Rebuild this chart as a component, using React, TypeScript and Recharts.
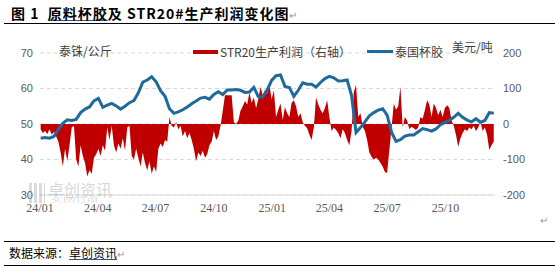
import { ComposedChart, Area, Line, XAxis, YAxis, CartesianGrid } from 'recharts';

// samples every 3.5 days starting 2024-01-02 (day 1 counted from 2024-01-01)
const firstDay = 1;
const stepDays = 3.5;

// 泰国杯胶, 泰铢/公斤 (left axis), one value per week = every second sample
const cupLump = [
  46.0, 46.2, 46.0, 46.5, 48.5, 50.2, 51.2, 51.0, 51.3, 53.2,
  54.2, 54.8, 56.5, 57.2, 54.7, 55.3, 55.8, 55.1, 54.2, 55.0,
  56.0, 56.6, 58.8, 61.8, 62.4, 63.3, 61.9, 59.4, 57.8, 54.3,
  53.0, 53.4, 54.0, 54.8, 55.7, 56.5, 57.3, 57.5, 57.0, 58.3,
  59.1, 58.3, 59.6, 59.6, 59.7, 59.5, 58.9, 59.0, 60.3, 57.7,
  57.6, 59.6, 62.3, 63.6, 63.8, 60.6, 60.3, 57.8, 59.5, 61.6,
  61.2, 61.2, 60.4, 61.7, 62.8, 63.4, 63.0, 62.1, 62.2, 62.4,
  58.0, 47.6, 49.0, 50.6, 52.3, 53.2, 53.9, 54.3, 52.5, 47.7,
  45.1, 45.6, 46.6, 46.9, 46.9, 47.8, 48.7, 48.4, 48.0, 48.6,
  49.8, 50.4, 51.0, 51.9, 53.0, 51.9, 51.1, 50.6, 51.5, 50.5,
  51.0, 53.2, 53.0,
];

// STR20生产利润, 美元/吨 (right axis), one value per sample
const str20Profit = [
  -15, -25, -20, -28, -15, -30, -22, -35, -50, -80,
  -120, -70, -105, -60, -10, -5, -100, -120, -60, -90,
  -110, -148, -130, -140, -95, -85, -70, -90, -60, -75,
  -10, -45, -5, -60, -80, -55, -70, -40, -75, -10,
  -5, -90, -100, -70, -95, -120, -80, -110, -130, -105,
  -140, -120, -135, -70, -55, -65, -45, -50, 20, -5,
  -10, 5, -15, -5, -35, -20, -40, -25, -45, -70,
  -105, -80, -90, -75, -95, -85, -60, -50, -20, -45,
  -35, -5, 37, 81, 81, 81, 81, 5, 0, 10,
  37, 50, 65, 55, 88, 60, 75, 45, 70, 105,
  80, 95, 85, 110, 70, 95, 20, 40, 58, 11,
  48, 30, 20, 60, 67, 50, 20, 30, 5, -5,
  -12, -30, -45, -10, 75, 55, 40, 30, 45, 67,
  20, -20, -10, -17, -25, -40, -15, -25, -45, -60,
  -20, 90, 110, 20, 30, -8, -20, -45, -80, -92,
  -101, -95, -100, -110, -120, -135, -138, -73, -10, 58,
  40, 50, 105, -10, 20, 10, -15, -8, -12, -17,
  -10, 20, 15, 39, 67, 55, 20, 58, 45, 25,
  40, 20, 45, 53, 45, 10, -5, -30, -64, -40,
  -25, -15, -20, -10, -15, -5, -20, -10, 7, -20,
  -10, -30, -73, -60, -50,
];

const tickDays = [0, 91, 182, 274, 366, 456, 547, 639];
const tickLabels = ['24/01', '24/04', '24/07', '24/10', '25/01', '25/04', '25/07', '25/10'];
const leftTicks = [30, 40, 50, 60, 70];
const rightTicks = [-200, -100, 0, 100, 200];

const data = str20Profit.map((p, i) => ({
  day: firstDay + i * stepDays,
  profit: p,
  cup: i % 2 === 0 ? cupLump[i / 2] : null,
}));

const RED = '#C00000';
const BLUE = '#1F6A9A';
const CJK = '"Noto Sans CJK SC", "Noto Sans", sans-serif';

const abs = (style: React.CSSProperties): React.CSSProperties => ({ position: 'absolute', whiteSpace: 'nowrap', ...style });

export default function App() {
  return (
    <div style={{ position: 'absolute', left: 0, top: 0, width: 555, height: 268, background: '#fff', fontFamily: CJK, overflow: 'hidden' }}>
      <ComposedChart width={555} height={268} data={data} margin={{ top: 53, right: 0, bottom: 53, left: 0 }}>
        <CartesianGrid yAxisId="left" vertical={false} stroke="#d9d9d9" strokeDasharray="4 3" />
        <XAxis
          dataKey="day"
          type="number"
          domain={[0, 717]}
          ticks={tickDays}
          interval={0}
          tickFormatter={(d) => tickLabels[tickDays.indexOf(d)]}
          height={20}
          axisLine={{ stroke: '#d9d9d9' }}
          tickLine={false}
          tick={{ fill: '#595959', fontSize: 12, fontFamily: '"Liberation Serif", serif' }}
        />
        <YAxis
          yAxisId="left"
          domain={[30, 70]}
          ticks={leftTicks}
          interval={0}
          width={40}
          axisLine={false}
          tickLine={false}
          tickMargin={1}
          tick={{ fill: '#595959', fontSize: 11, fontFamily: '"Liberation Sans", sans-serif' }}
        />
        <YAxis
          yAxisId="right"
          orientation="right"
          domain={[-200, 200]}
          ticks={rightTicks}
          interval={0}
          width={60}
          axisLine={false}
          tickLine={false}
          tick={{ fill: '#595959', fontSize: 11, fontFamily: '"Liberation Sans", sans-serif' }}
        />
        <Area
          yAxisId="right"
          type="linear"
          dataKey="profit"
          baseValue={0}
          fill={RED}
          fillOpacity={1}
          stroke="none"
          dot={false}
          activeDot={false}
          isAnimationActive={false}
        />
        <Line
          yAxisId="left"
          type="linear"
          dataKey="cup"
          connectNulls
          stroke={BLUE}
          strokeWidth={3}
          dot={false}
          activeDot={false}
          isAnimationActive={false}
        />
      </ComposedChart>

      {/* title */}
      <div style={abs({ left: 11, top: 3, fontSize: 14, fontWeight: 700, letterSpacing: 1, color: '#000' })}>
        图 1&nbsp;&nbsp;<span style={{ textDecoration: 'underline', textDecorationColor: '#2f5597' }}>原料杯胶</span>及 STR20#生产利润变化图
        <span style={{ color: '#999', fontWeight: 400, fontSize: 10 }}>↵</span>
      </div>
      <div style={abs({ left: 4, top: 23, width: 551, height: 1, background: '#000' })} />

      {/* units */}
      <div style={abs({ left: 59, top: 42, fontSize: 12, color: '#404040' })}>泰铢/公斤</div>
      <div style={abs({ left: 452, top: 38, fontSize: 12, color: '#404040' })}>美元/吨</div>

      {/* legend */}
      <div style={abs({ left: 193, top: 50, width: 25, height: 4, background: RED })} />
      <div style={abs({ left: 220, top: 43, fontSize: 12, color: '#404040' })}>STR20生产利润（右轴）</div>
      <div style={abs({ left: 367, top: 50, width: 26, height: 3, background: BLUE })} />
      <div style={abs({ left: 395, top: 43, fontSize: 12, color: '#404040' })}>泰国杯胶</div>

      {/* watermark */}
      <div style={abs({ left: 29, top: 183, width: 16, height: 20, background: 'repeating-linear-gradient(90deg, rgba(150,150,150,0.35) 0 3px, transparent 3px 5px)' })} />
      <div style={abs({ left: 48, top: 177, fontSize: 16, color: 'rgba(140,140,140,0.35)' })}>卓创资讯</div>
      <div style={abs({ left: 52, top: 195, fontSize: 9, color: 'rgba(140,140,140,0.35)', fontFamily: '"Liberation Serif", serif' })}>SCI99.COM</div>

      <div style={abs({ left: 540, top: 212, fontSize: 10, color: '#999' })}>↵</div>

      {/* source */}
      <div style={abs({ left: 4, top: 241, width: 551, height: 1, background: '#000' })} />
      <div style={abs({ left: 9, top: 244, fontSize: 12, color: '#000' })}>
        数据来源：<span style={{ textDecoration: 'underline', textDecorationColor: '#2f5597' }}>卓创资讯</span>
        <span style={{ color: '#999', fontSize: 10 }}>↵</span>
      </div>
      <div style={abs({ left: 4, top: 265, width: 551, height: 1, background: '#000' })} />
    </div>
  );
}
